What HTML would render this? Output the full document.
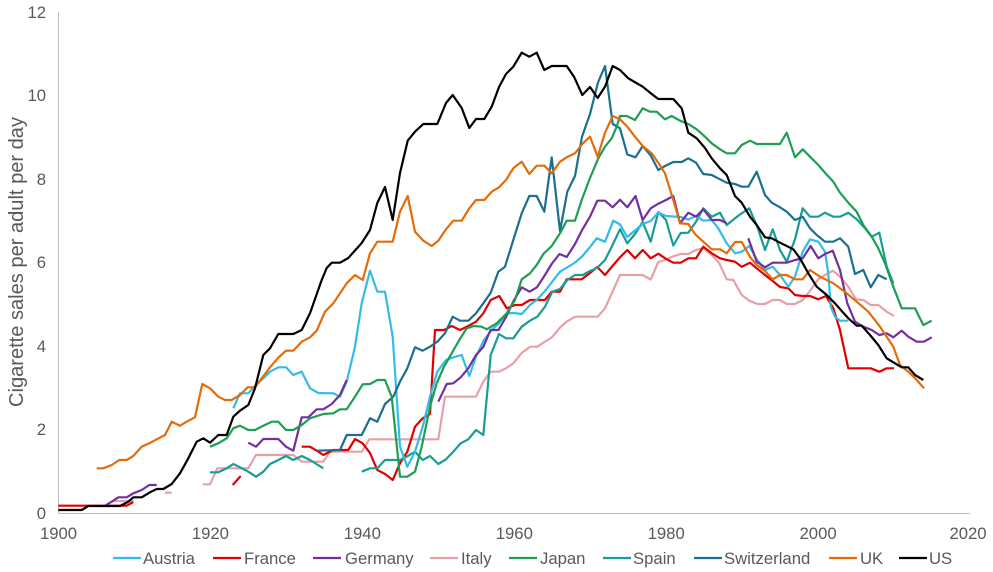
<!DOCTYPE html>
<html>
<head>
<meta charset="utf-8">
<style>
  html,body{margin:0;padding:0;background:#fff;}
  svg{display:block;}
  text{font-family:"Liberation Sans",Arial,sans-serif;fill:#595959;}
</style>
</head>
<body>
<svg width="993" height="572" viewBox="0 0 993 572" xmlns="http://www.w3.org/2000/svg">
  <rect width="993" height="572" fill="#fff"/>
  <!-- axes -->
  <line x1="58.5" y1="12" x2="58.5" y2="513.5" stroke="#BFBFBF" stroke-width="1"/>
  <line x1="58.5" y1="513.5" x2="970" y2="513.5" stroke="#BFBFBF" stroke-width="1"/>

  <!-- y tick labels -->
  <g font-size="16.7" text-anchor="end">
    <text x="46" y="18">12</text>
    <text x="46" y="101">10</text>
    <text x="46" y="185">8</text>
    <text x="46" y="268">6</text>
    <text x="46" y="352">4</text>
    <text x="46" y="435">2</text>
    <text x="46" y="519">0</text>
  </g>
  <!-- x tick labels -->
  <g font-size="16.7" text-anchor="middle">
    <text x="58.5" y="539">1900</text>
    <text x="210.4" y="539">1920</text>
    <text x="362.3" y="539">1940</text>
    <text x="514.3" y="539">1960</text>
    <text x="666.2" y="539">1980</text>
    <text x="818.1" y="539">2000</text>
    <text x="968" y="539">2020</text>
  </g>
  <!-- y axis title -->
  <text transform="translate(23,262) rotate(-90)" text-anchor="middle" font-size="20.5" textLength="290" lengthAdjust="spacingAndGlyphs">Cigarette sales per adult per day</text>

  <g fill="none" stroke-width="2.2" stroke-linejoin="round" stroke-linecap="butt">
    <!-- Italy -->
    <g stroke="#E8A0A8">
      <polyline points="113.3,501 133.3,501"/>
      <polyline points="165,492.7 171.7,492.7"/>
      <polyline points="202.7,484.3 210,484.3 217.3,468.3 248.3,468.3 256,455 293.3,455 301.7,461.7 323.3,461.7 330,451.7 361.7,451.7 369.3,439.3 438.3,439.3 445,396.7 476,396.7 483.3,381.7 490.7,371.7 499,371.7 506,368.3 513.3,363.3 521.7,353 530,346.7 537.3,346.7 545,341.7 552.3,337 560,327.5 566.7,321.7 575,316.7 597.7,316.7 605,308.3 620,275 642.7,275 650.7,279.5 658.3,262 666,259.5 673.3,256.3 680.7,254 688.3,254 696,250 703.3,248.3 711.7,255 719.3,263.3 726.7,279.3 733.3,280 741.7,295 749.3,300.7 757.3,304 765,304 772.7,300 780,300 786.7,304 795,304 802.7,300 810.7,290 818.3,279.3 825,275 832.7,270.7 840,276.7 848.3,286.7 856,299.3 863.3,300 870.7,305 878.3,305 886.7,311.7 894,316"/>
    </g>
    <!-- France -->
    <g stroke="#E00000">
      <polyline points="58.3,505.7 126.7,505.7 133.3,502"/>
      <polyline points="232.7,485 240.7,476"/>
      <polyline points="301.7,446.7 310,446.7 318.3,451.7 323.3,455 333.3,450 348.3,450 355,439 362.7,443.3 370,453 377.3,470 385,474 392.7,480 400,463.3 407.3,451.7 415,426.7 422.7,418.3 430,414 435,330 444,330 451.7,326 460,330 468.3,326 476,321.7 483.3,313.3 490.7,300 499.3,296 506.7,308.3 515,305 521.7,305 530,300 545,300 551.7,291.7 560,291.7 566.7,279.3 581.7,279.3 590,273 597.3,267 605,275 613.3,265 620,257.3 627.3,250 635,258.3 642.7,250 650.7,258.3 658.3,253.7 666,258.8 673.3,262.7 680.7,262.7 688.3,258.3 696,258.3 703.3,246.7 711.7,253.3 720,258.3 726.7,260 735,261.7 741.7,266.7 750,262.7 756.7,268.3 765,275 772.7,281 780,287 788.3,288.3 795,295 802.7,296 810,296 818.3,299.3 826,296 833.3,308.3 840,330 848.3,368.3 870.7,368.3 879.3,371.7 886.7,368.3 894,368.3"/>
    </g>
    <!-- Spain -->
    <g stroke="#179C96">
      <polyline points="210,472.3 218.3,472.3 226.7,468.3 233.3,464 240,467.3 248.3,471.7 256,476.7 263.3,471.7 270,464 278.3,460 286,456 293.3,460 301.7,456 310,460 323.3,468.3"/>
      <polyline points="361.7,471.7 370,468.3 377.3,468.3 385,460 400,460 406.7,456.7 415,451.7 422.7,460 430,456 438.3,464 446,459.3 453.3,451.7 460.7,443.3 468.3,439.3 476,430 483.3,435 490.7,355 499,334 506,338.3 513.3,338.3 521.7,326.7 530,320.7 537.3,316.7 545,306.7 552.3,291.7 560,289 567.3,280 575,275 582.7,275 590,271 597,268 605,260 611.7,246.7 620,229.3 627.3,243.3 635,234 642.7,222 650.7,241.7 658.3,212 666,220 673.3,245.5 680.7,233 688.3,232.7 696,221.7 703.3,208.3 711.7,216.7 720,212.7 726.7,225 735,218.3 741.7,213.3 749.3,208.3 757.3,226.7 765,250 772.7,229.3 780,250 786.7,261.7 795,239.3 802.7,208.3 810,216.7 818.3,216.7 825,212.7 833.3,216.7 840,216.7 848.3,212.7 856.7,219.3 865,228.3 871.7,236.7 879.3,232.7 886.7,266.7 893.3,283.3"/>
    </g>
    <!-- Austria -->
    <g stroke="#33BBEA">
      <polyline points="233.3,408.3 240,393.3 248.3,393.3 256,385 263.3,378.3 270,371.7 278.3,367.3 286,367.3 293.3,375 301.7,371.7 310,388.3 318.3,393 333.3,393.3 340,396.7 346.7,381.7 355,346.7 361.7,303.3 370,270.7 377.3,291.7 385,291.7 392.7,336.7 400,446.7 407.3,466.7 415,451.7 422.7,426.7 430,396.7 437.3,371.7 446,360 453.3,357.3 461.7,355 469.3,376 476,356.7 484,340 491.7,330 499,323.3 506.7,313.3 513.3,313 521.7,314 530,305 536.7,300 545,291 552,282 560,271.7 566.7,267.7 575,262.5 582,256.5 590,247 596.7,238.3 605,241.7 613.3,220.7 620,224.5 627.3,237 635,230.5 642.7,224 650.7,221 658.3,212.5 666,216 680.7,217 688.3,219.7 696,215.8 703.3,220.7 711.7,220 718.3,228.3 726.7,243.3 735,253.3 741.7,251.7 749.3,246 757.3,260 765,270 772.7,266.7 780,275 788.3,286.7 795,276.7 802.7,251.7 810,239.3 818.3,241.7 825,251.7 828.3,273.3 830.7,306.7 835,316.7 840,320.7 848.3,320.7"/>
    </g>
    <!-- Germany -->
    <g stroke="#7030A0">
      <polyline points="105,505.7 111.7,501.7 118.3,497.3 126.7,497.3 133.3,493.3 141.7,490 149.3,485 156.7,485"/>
      <polyline points="248.3,442.7 256,446.7 263.3,439 278.3,439 286,446.7 293.3,450.7 301.7,417.3 308.3,417.3 316.7,409.3 323.3,409.3 331.7,404 340,395 346.7,380"/>
      <polyline points="438.3,401.7 446.7,384 453.3,383.3 460.7,377.3 468.3,368.3 476,355 483.3,347 490.5,330 498.5,330 506.3,316.5 513.5,301 521.7,287.3 529.5,291.7 537,287.3 544,276.5 552,263.5 559.5,254 566.7,257 575,244 581.7,230.7 590,216.7 597.3,200.7 605,200.7 612.7,207.3 620,199.7 627.3,207.3 635.5,196 642.7,220 650.7,208.3 658.3,203.7 666,200 673.3,196 680,223.3 688.3,212.7 696,216.7 703.3,209.3 711.7,220 720,220 726.7,223.3"/>
      <polyline points="748.3,238.3 756.7,261.7 765,267.3 772.7,262.7 786.7,262.7 795,260 802.7,258.3 810.7,246 818.3,258.3 825,254 832.7,250.7 840,270 847.3,303.3 855,321.7 863.3,326.7 871.7,330 879.3,335 886.7,333.3 893.3,337.3 901.7,330.7 908.3,336.7 916.7,341.7 924,341.7 931.7,337.3"/>
    </g>
    <!-- Switzerland -->
    <g stroke="#1B6F90">
      <polyline points="316.7,450.7 340,450 346.7,435 361.7,435 370,418.3 377.3,421.7 385,404 393.3,396.7 400,381.7 407.3,368.3 415,347.3 422.7,350.7 430,346.7 437.3,341.7 445,333.3 452.7,316.7 460,320.7 468.3,320.7 476,313.3 483.3,303.3 490.7,292.7 498.3,271.7 505,266.7 513.3,240 521.7,213.3 529.3,196 536.7,196 544.3,211.7 551.7,157.3 560,231 567.3,191.7 575,176 582,136.7 590,114 598,82.5 605,66 612.7,124 620,128.3 627.3,154.5 635.5,157.3 642.7,146 650.7,155.5 658.3,170 665,166 673.3,162 681.7,162 688.3,158.3 696,162.7 703.3,174 711.7,175 720,179.3 726.7,182.7 735,184 741.7,186.7 748.3,186.7 756.7,171.7 765,195 771.7,202.7 780,207.3 786.7,211.7 795,220 802.7,216.7 810,228.3 816.7,235 825,241.7 833.3,241.7 840,238.3 848.3,246.7 855,274 863.3,270 870.7,287.3 878.3,275 886.7,279.3"/>
    </g>
    <!-- Japan -->
    <g stroke="#1E9E52">
      <polyline points="210,446.7 218.3,443.3 226.7,438.3 233.3,428.3 240,425.7 248.3,430 255,430 263.3,425.7 271.7,421.7 278.3,421.7 286,430 293.3,430 301.7,425 310,418.3 323.3,414 333.3,413.3 340,409.3 346.7,409.3 355,396.7 362.7,384.3 370,384 377.3,380 385,380 391.7,396.7 400,476.7 407.3,476.7 415,471.7 421.7,446.7 430,406.7 436.7,383.3 444,366.7 451.7,353.3 459.3,340 466.7,328.3 474,326 481.7,326.7 486.7,329.3 496.7,323.3 506.7,313.3 515,300 521.7,279.3 530,273.3 536.7,265 543.3,254 551.7,246 560,233.3 566.7,220.7 575,220.7 581.7,200 590,178 598.3,158.3 605,146.7 611.7,138.3 616.7,126.7 620,116 626.7,116 635,120 642.7,108.3 650,111.7 656.7,111.7 665,119.3 671.7,116 680,120.7 688.3,124 696.7,129.3 705,136.7 711.7,143.3 720,149.3 726.7,153.3 735,153.3 741.7,145 750,140.7 756.7,144 780,144 786.7,132.7 795,157.3 802.7,149.3 810,156.7 818.3,165 825,172.7 833.3,181.7 840,192.7 848.3,202.7 856.7,211.7 863.3,225 871.7,236.7 878.3,248.3 885,263.3 893.3,286.7 901.7,308.3 915,308.3 923.3,325 931.7,320.7"/>
    </g>
    <!-- UK -->
    <g stroke="#E36C0A">
      <polyline points="96.7,468.3 103.3,468.3 111.7,465 119.3,460 126.7,460 133.3,456 141.7,446.7 149.3,443.3 156.7,439.3 165,435 171.7,421.7 180,425.7 186.7,421.7 195,417.3 202.3,384 210,388.3 218.3,396.7 225,400 231.7,400 240,395 247.7,387.3 255,387.3 261.7,378.3 270,367.3 278.3,357.7 286,350.7 293.3,350.7 301.7,341.7 310,337.3 316.7,330.7 325,311.7 333.3,303.3 346.7,283.3 355,275 362.7,280 370,253.3 377.3,241.7 392.7,241.7 400,211.7 407.7,196 415,231.7 423.3,240.7 431.7,246 438.3,240.7 446,229.3 453.3,220.7 461.7,220.7 469.3,208.3 476,200 484.3,200 491.7,191.7 499,187.3 506,180 513.3,168.3 521.7,161.7 529.3,174 536.7,165.7 544.3,165.7 551.7,173.3 560,161.7 566.7,157.3 575,153.3 582.3,144 590,136.7 597.7,156.7 605,132.7 612.7,116 620,119.3 626.7,126 635,136.7 642.7,146 651.7,153.3 658.3,162.7 665,173.3 673.3,200 680,223.3 688.3,224 695,234 703.3,241.7 711.7,249.3 720,249.3 726.7,253.3 735,242 741.7,242 750,257 756.7,265 765,271 772.7,279.3 780,275 786.7,275 795,279.3 802.7,279.3 810,270 820,276.7 833.3,283.3 846.7,293.3 856.7,301.7 868.3,311.7 880,326.7 893.3,346.7 900,365 908.3,371.7 916.7,380 924,388.3"/>
    </g>
    <!-- US -->
    <g stroke="#000000">
      <polyline points="58.3,510 81.7,510 88.3,506 120,506 128.3,501.7 133.3,497.3 141.7,497.3 150,492.3 156.7,489 163.3,489 171.7,484 180,473.3 188.3,458.3 196.7,441.7 203.3,438.3 210,442.7 218.3,435 226.7,435 233.3,416.7 240,410.7 248.3,405 255,388.3 263.3,355 270,348.3 278.3,334 293.3,334 301.7,330 310,313.3 321.7,280 326.7,268 331.7,262.7 340,262.7 348.3,258 361.7,243 370,230 377.3,203 385,187 392.7,220 400,173 407.7,140.7 415,131.7 423.3,124 437.3,124 446,103 452.7,95 461.7,108 469.3,128 476,119 484.3,119 491.7,106.7 499,87 506,74 513.3,66.7 521.7,52.7 529.3,56.7 536.7,52.7 544.3,70 551.7,66 566.7,66 574.3,77.3 582.3,95 590,87 597.7,98 605,86.7 612.7,66 620,70 628.3,78.3 642.7,86.7 651.7,94 658.3,99 673.3,99 681.7,108.3 688.3,132.7 696.7,138.3 705,148 711.7,158.3 720,168.3 726.7,175 735,196 741.7,202.7 750,216.7 756.7,225 765,237.3 771.7,238.3 780,242.7 786.7,246 793.3,249.3 800,258.3 808.3,273.3 816.7,286.7 826.7,295 835,303.3 841.7,311 848.3,318.3 856.7,325.7 861.7,325.7 870,335 878.3,345 886.7,358.3 893.3,362.3 901.7,367.3 908.3,367.3 915,375 923.3,380"/>
    </g>
  </g>

  <!-- legend -->
  <g stroke-width="2.2">
    <line x1="113" y1="558" x2="141" y2="558" stroke="#33BBEA"/>
    <line x1="213" y1="558" x2="241" y2="558" stroke="#E00000"/>
    <line x1="313" y1="558" x2="341" y2="558" stroke="#7030A0"/>
    <line x1="430" y1="558" x2="458" y2="558" stroke="#E8A0A8"/>
    <line x1="509" y1="558" x2="537" y2="558" stroke="#1E9E52"/>
    <line x1="603" y1="558" x2="631" y2="558" stroke="#179C96"/>
    <line x1="694" y1="558" x2="722" y2="558" stroke="#1B6F90"/>
    <line x1="829" y1="558" x2="857" y2="558" stroke="#E36C0A"/>
    <line x1="899" y1="558" x2="927" y2="558" stroke="#000000"/>
  </g>
  <g font-size="16.7">
    <text x="143" y="564">Austria</text>
    <text x="244" y="564">France</text>
    <text x="345" y="564">Germany</text>
    <text x="461" y="564">Italy</text>
    <text x="540" y="564">Japan</text>
    <text x="633" y="564">Spain</text>
    <text x="724" y="564">Switzerland</text>
    <text x="860" y="564">UK</text>
    <text x="929" y="564">US</text>
  </g>
</svg>
</body>
</html>
